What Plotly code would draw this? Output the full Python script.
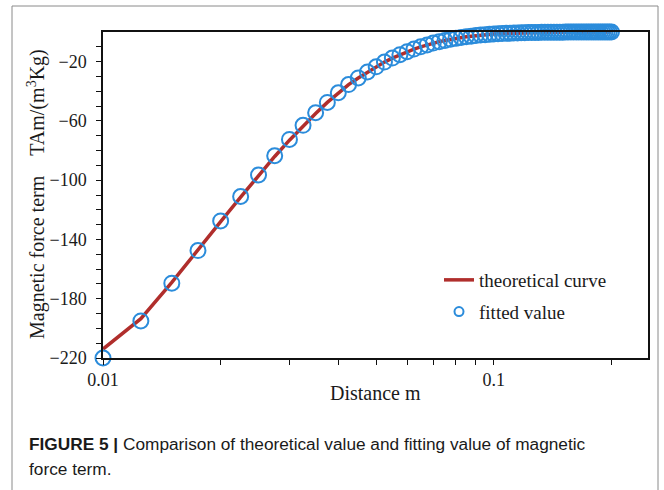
import plotly.graph_objects as go

# ---- data ----
distance = [0.01, 0.0125, 0.015, 0.0175, 0.02, 0.0225, 0.025, 0.0275, 0.03, 0.0325,
            0.035, 0.0375, 0.04, 0.0425, 0.045, 0.0475, 0.05, 0.0525, 0.055, 0.0575,
            0.06, 0.0625, 0.065, 0.0675, 0.07, 0.0725, 0.075, 0.0775, 0.08, 0.0825,
            0.085, 0.0875, 0.09, 0.0925, 0.095, 0.0975, 0.1, 0.1025, 0.105, 0.1075,
            0.11, 0.1125, 0.115, 0.1175, 0.12, 0.1225, 0.125, 0.1275, 0.13, 0.1325,
            0.135, 0.1375, 0.14, 0.1425, 0.145, 0.1475, 0.15, 0.1525, 0.155, 0.1575,
            0.16, 0.1625, 0.165, 0.1675, 0.17, 0.1725, 0.175, 0.1775, 0.18, 0.1825,
            0.185, 0.1875, 0.19, 0.1925, 0.195, 0.1975, 0.2]

fitted = [-220, -195, -169.5, -147.5, -127.5, -111, -96.5, -83.5, -72.5, -63,
          -54.5, -47.5, -41, -35.5, -31, -27, -23.5, -20.3, -17.6, -15.3,
          -13.3, -11.5, -10, -8.7, -7.5, -6.5, -5.7, -4.9, -4.3, -3.7,
          -3.2, -2.8, -2.4, -2.1, -1.8, -1.6, -1.4, -1.2, -1.05, -0.9,
          -0.8, -0.7, -0.6, -0.52, -0.45, -0.4, -0.35, -0.3, -0.26, -0.23,
          -0.2, -0.17, -0.15, -0.13, -0.11, -0.1, -0.09, -0.08, -0.07, -0.06,
          -0.05, -0.05, -0.04, -0.04, -0.03, -0.03, -0.03, -0.02, -0.02, -0.02,
          -0.02, -0.01, -0.01, -0.01, -0.01, -0.01, -0.01]

theoretical = [-214, -193.5, -169, -147.5, -128, -111.5, -97, -84, -73, -63.5,
               -55, -47.5, -41, -35.5, -31, -27, -23.5, -20.3, -17.6, -15.3,
               -13.3, -11.5, -10, -8.7, -7.5, -6.5, -5.7, -4.9, -4.3, -3.7,
               -3.2, -2.8, -2.4, -2.1, -1.8, -1.6, -1.4, -1.2, -1.05, -0.9,
               -0.8, -0.7, -0.6, -0.52, -0.45, -0.4, -0.35, -0.3, -0.26, -0.23,
               -0.2, -0.17, -0.15, -0.13, -0.11, -0.1, -0.09, -0.08, -0.07, -0.06,
               -0.05, -0.05, -0.04, -0.04, -0.03, -0.03, -0.03, -0.02, -0.02, -0.02,
               -0.02, -0.01, -0.01, -0.01, -0.01, -0.01, -0.01]

x_tickvals = [0.01, 0.02, 0.03, 0.04, 0.05, 0.06, 0.07, 0.08, 0.09, 0.1, 0.2]
x_ticktext = ["0.01", "", "", "", "", "", "", "", "", "0.1", ""]
y_tickvals = [-220, -210, -200, -190, -180, -170, -160, -150, -140, -130, -120,
              -110, -100, -90, -80, -70, -60, -50, -40, -30, -20, -10]
y_ticktext = ["\u2212220", "", "", "", "\u2212180", "", "", "", "\u2212140", "", "", "",
              "\u2212100", "", "", "", "\u221260", "", "", "", "\u221220", ""]

RED = "#B02E2C"
BLUE = "#2B8CDB"
SERIF = "Liberation Serif"
SANS = "Liberation Sans"
TXT = "#1a1a1a"

fig = go.Figure()
fig.add_trace(go.Scatter(x=distance, y=theoretical, mode="lines",
                         line=dict(color=RED, width=3.5),
                         name="theoretical curve", legendgroup="a",
                         cliponaxis=False))
fig.add_trace(go.Scatter(x=distance, y=fitted, mode="markers",
                         marker=dict(symbol="circle-open", size=15, color=BLUE,
                                     line=dict(width=2, color=BLUE)),
                         name="fitted value", showlegend=False, cliponaxis=False))
# legend-only entry (smaller marker like the reference legend)
fig.add_trace(go.Scatter(x=[None], y=[None], mode="markers",
                         marker=dict(symbol="circle-open", size=9, color=BLUE,
                                     line=dict(width=2, color=BLUE)),
                         name="fitted value", legendgroup="b"))

L, R, T, B = 103, 16, 32, 132
W, H = 664, 490
pw, ph = W - L - R, H - T - B


def px(xp):
    return (xp - L) / pw


def py(yp):
    return (H - B - yp) / ph


fig.update_layout(
    width=W, height=H,
    margin=dict(l=L, r=R, t=T, b=B, pad=0),
    paper_bgcolor="white", plot_bgcolor="white",
    showlegend=True,
    legend=dict(x=px(439), y=py(261), xanchor="left", yanchor="top",
                font=dict(family=SERIF, size=19, color=TXT),
                bgcolor="rgba(0,0,0,0)", traceorder="grouped",
                tracegroupgap=4),
    font=dict(family=SERIF, size=18, color=TXT),
)

fig.update_xaxes(type="log", range=[-2, -0.6055],
                 tickvals=x_tickvals, ticktext=x_ticktext,
                 ticks="outside", ticklen=5, tickwidth=1.3, tickcolor="#111",
                 showline=True, linecolor="#111", linewidth=1.5, mirror=True,
                 showgrid=False, zeroline=False,
                 tickfont=dict(family=SERIF, size=18, color=TXT))
fig.update_yaxes(range=[-220, 0],
                 tickvals=y_tickvals, ticktext=y_ticktext,
                 ticks="outside", ticklen=5, tickwidth=1.3, tickcolor="#111",
                 ticklabelstandoff=6,
                 showline=True, linecolor="#111", linewidth=1.5, mirror=True,
                 showgrid=False, zeroline=False,
                 tickfont=dict(family=SERIF, size=18, color=TXT))

# axis titles
fig.add_annotation(xref="paper", yref="paper", x=px(375), y=py(393),
                   text="Distance m", showarrow=False,
                   font=dict(family=SERIF, size=20, color=TXT),
                   xanchor="center", yanchor="middle")
fig.add_annotation(xref="paper", yref="paper", x=px(36), y=py(194),
                   text="Magnetic force term\u00a0\u00a0\u00a0\u00a0TAm/(m<sup>3</sup>Kg)",
                   textangle=-90, showarrow=False,
                   font=dict(family=SERIF, size=20, color=TXT),
                   xanchor="center", yanchor="middle")

# caption
fig.add_annotation(xref="paper", yref="paper", x=px(27), y=py(444),
                   text="<b>FIGURE 5 |</b> Comparison of theoretical value and fitting value of magnetic",
                   showarrow=False, font=dict(family=SANS, size=17.25, color=TXT),
                   xanchor="left", yanchor="middle", align="left")
fig.add_annotation(xref="paper", yref="paper", x=px(27), y=py(469),
                   text="force term.",
                   showarrow=False, font=dict(family=SANS, size=17.25, color=TXT),
                   xanchor="left", yanchor="middle", align="left")

# outer frame of the figure panel
fig.add_shape(type="rect", xref="paper", yref="paper",
              x0=px(12), x1=px(658), y0=py(500), y1=py(6),
              line=dict(color="#8a8a8a", width=1), layer="below")

fig.write_html("out.html")
